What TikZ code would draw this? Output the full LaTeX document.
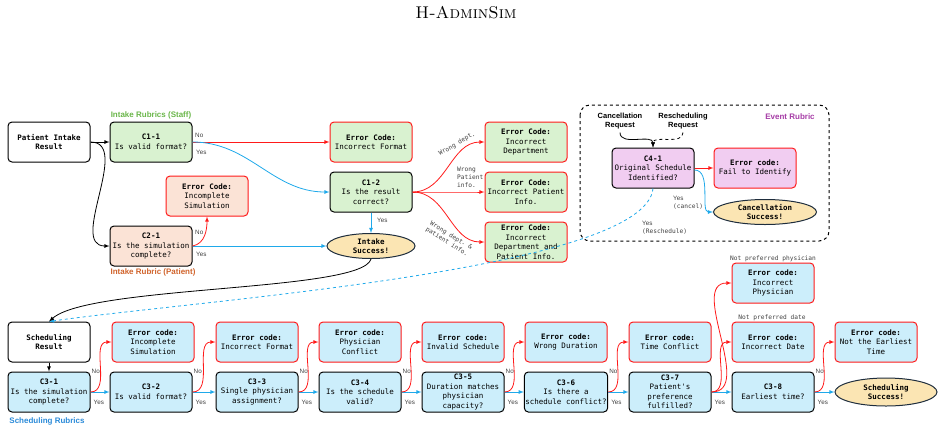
\documentclass[tikz,border=0pt]{standalone}
\usepackage{fontspec}
\setsansfont{Liberation Sans}
\setmonofont{DejaVu Sans Mono}
\usepackage{tikz}
\usetikzlibrary{shapes,arrows}

\definecolor{okgreen}{HTML}{D9F2D0}
\definecolor{patsalmon}{HTML}{FBE3D6}
\definecolor{schedblue}{HTML}{CCEEFB}
\definecolor{evpurple}{HTML}{F1CDF1}
\definecolor{succyellow}{HTML}{FBE5B3}
\definecolor{succline}{HTML}{1E2D3D}
\definecolor{errred}{HTML}{FF1A1A}
\definecolor{yesblue}{HTML}{1FA9EA}
\definecolor{rubgreen}{HTML}{6AB64A}
\definecolor{ruborange}{HTML}{D0632B}
\definecolor{rubpurple}{HTML}{A63CA6}
\definecolor{rubblue}{HTML}{2A8AD8}

\newcommand\boxfont{\ttfamily\fontsize{7.5}{9.5}\selectfont}
\newcommand\tagfont{\ttfamily\fontsize{6.2}{8}\selectfont}
\newcommand\ynfont{\sffamily\fontsize{6.3}{8}\selectfont}
\newcommand\rubfont{\sffamily\bfseries\fontsize{8}{9.5}\selectfont}

\begin{document}
\begin{tikzpicture}[x=1pt,y=-1pt,>=latex,
  box/.style={draw,rounded corners=4pt,line width=1pt,minimum width=82,minimum height=40,align=center,inner sep=1pt,font=\boxfont},
  err/.style={box,draw=errred},
  succ/.style={ellipse,draw=succline,line width=1pt,fill=succyellow,align=center,inner sep=0pt,font=\boxfont\bfseries},
  yes/.style={->,draw=yesblue,line width=0.8pt},
  no/.style={->,draw=errred,line width=0.8pt},
  go/.style={->,draw=black,line width=0.8pt},
  yn/.style={font=\ynfont,text=black!75,inner sep=0pt,anchor=west},
  tag/.style={font=\tagfont,text=black!75,inner sep=0pt,align=left}]
\useasboundingbox (0,0) rectangle (944,432);

\node[font=\fontsize{17}{20}\selectfont] (hdr) at (466,13) {\textsc{H-AdminSim}};

% intake rubrics
\node[box] (pir) at (49,142) {\textbf{Patient Intake}\\\textbf{Result}};
\node[box,fill=okgreen] (c11) at (151,142) {\textbf{C1-1}\\Is valid format?};
\node[box,fill=patsalmon] (c21) at (151,246) {\textbf{C2-1}\\Is the simulation\\complete?};
\node[err,fill=patsalmon] (e21) at (207,196) {\textbf{Error Code:}\\Incomplete\\Simulation};
\node[err,fill=okgreen] (e11) at (371,142) {\textbf{Error Code:}\\Incorrect Format};
\node[box,fill=okgreen] (c12) at (371,192) {\textbf{C1-2}\\Is the result\\correct?};
\node[succ,minimum width=88,minimum height=25] (isucc) at (371,246) {Intake\\Success!};
\node[err,fill=okgreen] (e12a) at (526,142) {\textbf{Error Code:}\\Incorrect\\Department};
\node[err,fill=okgreen] (e12b) at (526,192) {\textbf{Error Code:}\\Incorrect Patient\\Info.};
\node[err,fill=okgreen] (e12c) at (526,242) {\textbf{Error Code:}\\Incorrect\\Department and\\Patient Info.};

\node[font=\rubfont,text=rubgreen] (rstaff) at (151,115) {Intake Rubrics (Staff)};
\node[font=\rubfont,text=ruborange] (rpat) at (153,272) {Intake Rubric (Patient)};

\draw[go] (pir.east) -- (c11.west);
\draw[go] (pir.east) to[out=0,in=180] (c21.west);
\draw[no] (c11.east) -- (e11.west);
\draw[yes] (c11.east) to[out=0,in=180] (c12.west);
\draw[yes] (c12.south) -- (isucc.north);
\draw[yes] (c21.east) -- (isucc.west);
\draw[no] (c21.east) to[out=10,in=-90] (e21.south);
\draw[no] (c12.east) to[out=0,in=180] (e12a.west);
\draw[no] (c12.east) to[out=0,in=180] (e12b.west);
\draw[no] (c12.east) to[out=0,in=180] (e12c.west);

\node[yn] at (195,135) {No};
\node[yn] at (196,152) {Yes};
\node[yn] at (195,232) {No};
\node[yn] at (196,254) {Yes};
\node[yn] at (377,220) {Yes};
\node[tag,rotate=30] at (457,144) {Wrong dept.};
\node[tag,anchor=west] at (457,177) {Wrong\\Patient\\info.};
\node[tag,rotate=-32] at (449,239) {Wrong dept. \&\\patient info.};

% scheduling result
\node[box] (sr) at (49,342) {\textbf{Scheduling}\\\textbf{Result}};

% event rubric
\draw[dashed,line width=1pt,rounded corners=10pt] (580,105) rectangle (829,241);
\node[font=\rubfont,text=rubpurple] (revent) at (790,117) {Event Rubric};
\node[font=\sffamily\bfseries\fontsize{7.5}{9}\selectfont,align=center] (creq) at (620,121) {Cancellation\\Request};
\node[font=\sffamily\bfseries\fontsize{7.5}{9}\selectfont,align=center] (rreq) at (683,121) {Rescheduling\\Request};
\node[box,fill=evpurple] (c41) at (653,168) {\textbf{C4-1}\\Original Schedule\\Identified?};
\node[err,fill=evpurple] (e41) at (755,168) {\textbf{Error code:}\\Fail to Identify};
\node[succ,minimum width=103,minimum height=25] (csucc) at (765,212) {Cancellation\\Success!};

\draw[go] (creq.south) to[out=-90,in=90] (c41.north);
\draw[go,dashed] (rreq.south) to[out=-90,in=90] (c41.north);
\draw[no] (c41.east) -- (e41.west);
\draw[yes] ([yshift=-2]c41.east) .. controls (712,170) and (700,212) .. (csucc.west);
\draw[yes,dashed] (c41.south) .. controls (645,270) and (200,300) .. (sr.north);
\node[tag,anchor=west] at (673,203) {\ynfont Yes\\(cancel)};
\node[tag,anchor=west] at (642,228) {\ynfont Yes\\(Reschedule)};

% scheduling rubrics
\node[box,fill=schedblue] (c31) at (49,392) {\textbf{C3-1}\\Is the simulation\\complete?};
\node[box,fill=schedblue] (c32) at (151,392) {\textbf{C3-2}\\Is valid format?};
\node[box,fill=schedblue] (c33) at (257,392) {\textbf{C3-3}\\Single physician\\assignment?};
\node[box,fill=schedblue] (c34) at (360,392) {\textbf{C3-4}\\Is the schedule\\valid?};
\node[box,fill=schedblue] (c35) at (463,392) {\textbf{C3-5}\\Duration matches\\physician\\capacity?};
\node[box,fill=schedblue] (c36) at (566,392) {\textbf{C3-6}\\Is there a\\schedule conflict?};
\node[box,fill=schedblue] (c37) at (670,392) {\textbf{C3-7}\\Patient's\\preference\\fulfilled?};
\node[box,fill=schedblue] (c38) at (773,392) {\textbf{C3-8}\\Earliest time?};
\node[succ,minimum width=102,minimum height=28] (ssucc) at (886,392) {Scheduling\\Success!};

\draw[go] (isucc.south) .. controls (362,292) and (90,285) .. (sr.north);
\draw[go] (sr.south) -- (c31.north);

\node[err,fill=schedblue] (e31) at (153,342) {\textbf{Error code:}\\Incomplete\\Simulation};
\node[err,fill=schedblue] (e32) at (257,342) {\textbf{Error code:}\\Incorrect Format};
\node[err,fill=schedblue] (e33) at (360,342) {\textbf{Error code:}\\Physician\\Conflict};
\node[err,fill=schedblue] (e34) at (463,342) {\textbf{Error code:}\\Invalid Schedule};
\node[err,fill=schedblue] (e35) at (566,342) {\textbf{Error code:}\\Wrong Duration};
\node[err,fill=schedblue] (e36) at (670,342) {\textbf{Error code:}\\Time Conflict};
\node[err,fill=schedblue] (e37d) at (773,342) {\textbf{Error code:}\\Incorrect Date};
\node[err,fill=schedblue] (e37p) at (773,283) {\textbf{Error code:}\\Incorrect\\Physician};
\node[err,fill=schedblue] (e38) at (876,342) {\textbf{Error code:}\\Not the Earliest\\Time};

\node[font=\rubfont,text=rubblue] (rsched) at (47,421) {Scheduling Rubrics};
\node[tag] at (773,259) {Not preferred physician};
\node[tag] at (772,318) {Not preferred date};

\foreach \a/\b/\e in {c31/c32/e31,c32/c33/e32,c33/c34/e33,c34/c35/e34,c35/c36/e35,c36/c37/e36,c37/c38/e37d,c38/ssucc/e38} {
  \draw[yes] (\a.east) -- (\b.west);
  \draw[no] (\a.east) to[out=0,in=180] (\e.west);
  \node[yn] at ([xshift=3,yshift=-10]\a.east) {Yes};
}
\foreach \a in {c31,c32,c33,c34,c35,c36,c38}
  \node[yn] at ([xshift=1,yshift=21]\a.east) {No};
\draw[no] (c37.east) to[out=0,in=180] (e37p.west);
\end{tikzpicture}
\end{document}
